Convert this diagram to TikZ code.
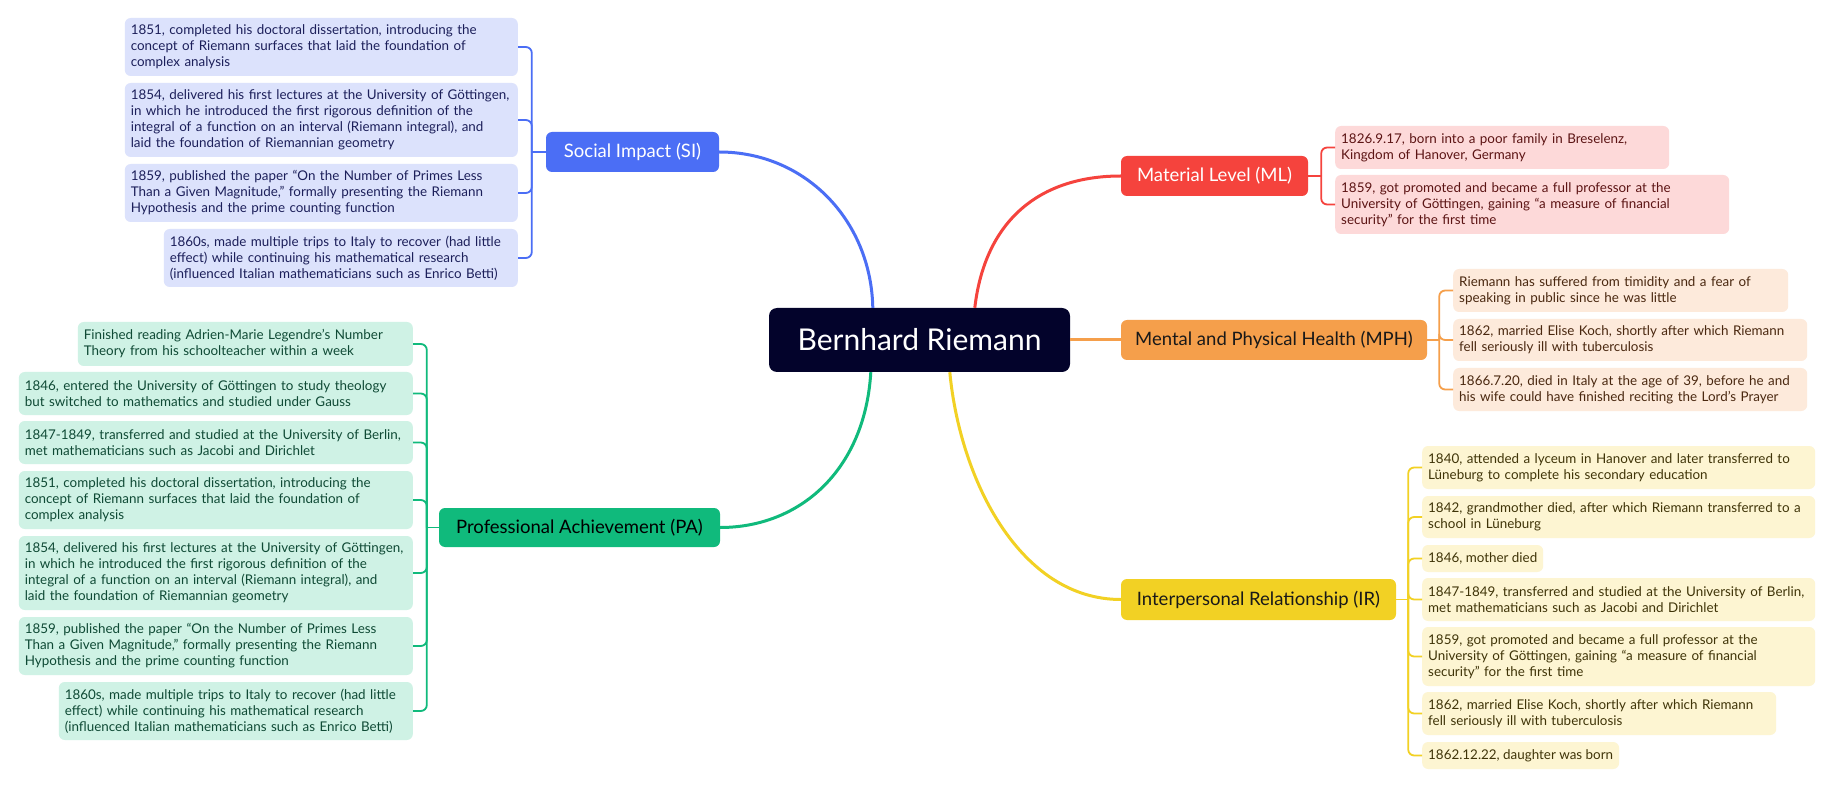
\documentclass[tikz,border=0pt]{standalone}
\usepackage{fontspec}
\setmainfont{Lato}
\usetikzlibrary{calc}
\definecolor{cen}{HTML}{03032B}
\definecolor{siC}{HTML}{4B6EF5}\definecolor{siL}{HTML}{DCE2FC}\definecolor{siT}{HTML}{1C1F5A}
\definecolor{paC}{HTML}{10BA7C}\definecolor{paL}{HTML}{CFF2E5}\definecolor{paT}{HTML}{0F4A35}
\definecolor{mlC}{HTML}{F5433D}\definecolor{mlL}{HTML}{FDD9D9}\definecolor{mlT}{HTML}{5C1414}
\definecolor{mpC}{HTML}{F59F4B}\definecolor{mpL}{HTML}{FDEADB}\definecolor{mpT}{HTML}{4A2810}
\definecolor{irC}{HTML}{F2D124}\definecolor{irL}{HTML}{FDF5D2}\definecolor{irT}{HTML}{3F3408}
\begin{document}
\begin{tikzpicture}[x=1pt,y=-1pt,
  leaf/.style={rounded corners=6pt, inner xsep=6pt, inner ysep=0pt, align=left,
    font=\fontsize{13.4}{16}\selectfont},
  sileaf/.style={leaf, fill=siL, text=siT, anchor=east},
  paleaf/.style={leaf, fill=paL, text=paT, anchor=east},
  mlleaf/.style={leaf, fill=mlL, text=mlT, anchor=west},
  mpleaf/.style={leaf, fill=mpL, text=mpT, anchor=west},
  irleaf/.style={leaf, fill=irL, text=irT, anchor=west},
  branch/.style={rounded corners=6pt, inner sep=0pt, minimum height=40pt,
    font=\fontsize{18.5}{22}\selectfont},
  brk/.style={line width=1.8pt, rounded corners=6pt},
  main/.style={line width=3pt}
]
\useasboundingbox[fill=white] (0,0) rectangle (1836,791);

% central
\node[fill=cen, text=white, rounded corners=8pt, minimum width=301pt, minimum height=64pt,
  inner sep=0pt, font=\fontsize{30}{34}\selectfont] (c) at (919.5,340) {Bernhard Riemann};

% branch nodes
\node[branch, fill=siC, text=white, minimum width=173pt] (si) at (632.5,152) {Social Impact (SI)};
\node[branch, fill=paC, text=black, minimum width=281pt, minimum height=39pt] (pa) at (579.5,527.5) {Professional Achievement (PA)};
\node[branch, fill=mlC, text=white, minimum width=187pt] (ml) at (1214.5,176) {Material Level (ML)};
\node[branch, fill=mpC, text=black!90, minimum width=306pt] (mp) at (1274,340) {Mental and Physical Health (MPH)};
\node[branch, fill=irC, text=black!90, minimum width=275pt, minimum height=41pt] (ir) at (1258.5,599.5) {Interpersonal Relationship (IR)};

% SI leaves
\node[sileaf, text width=381pt, minimum height=58pt] (si1) at (518,47) {1851, completed his doctoral dissertation, introducing the\\concept of Riemann surfaces that laid the foundation of\\complex analysis};
\node[sileaf, text width=381pt, minimum height=74pt] (si2) at (518,120) {1854, delivered his first lectures at the University of Göttingen,\\in which he introduced the first rigorous definition of the\\integral of a function on an interval (Riemann integral), and\\laid the foundation of Riemannian geometry};
\node[sileaf, text width=381pt, minimum height=58pt] (si3) at (518,193) {1859, published the paper “On the Number of Primes Less\\Than a Given Magnitude,” formally presenting the Riemann\\Hypothesis and the prime counting function};
\node[sileaf, text width=342pt, minimum height=58pt] (si4) at (518,258) {1860s, made multiple trips to Italy to recover (had little\\effect) while continuing his mathematical research\\(influenced Italian mathematicians such as Enrico Betti)};

% PA leaves
\node[paleaf, text width=323pt, minimum height=44pt] (pa1) at (413,344) {Finished reading Adrien-Marie Legendre’s Number\\Theory from his schoolteacher within a week};
\node[paleaf, text width=382pt, minimum height=43pt] (pa2) at (413,393.5) {1846, entered the University of Göttingen to study theology\\but switched to mathematics and studied under Gauss};
\node[paleaf, text width=382pt, minimum height=43pt] (pa3) at (413,442.5) {1847-1849, transferred and studied at the University of Berlin,\\met mathematicians such as Jacobi and Dirichlet};
\node[paleaf, text width=382pt, minimum height=58pt] (pa4) at (413,500) {1851, completed his doctoral dissertation, introducing the\\concept of Riemann surfaces that laid the foundation of\\complex analysis};
\node[paleaf, text width=382pt, minimum height=74pt] (pa5) at (413,573) {1854, delivered his first lectures at the University of Göttingen,\\in which he introduced the first rigorous definition of the\\integral of a function on an interval (Riemann integral), and\\laid the foundation of Riemannian geometry};
\node[paleaf, text width=382pt, minimum height=58pt] (pa6) at (413,646) {1859, published the paper “On the Number of Primes Less\\Than a Given Magnitude,” formally presenting the Riemann\\Hypothesis and the prime counting function};
\node[paleaf, text width=342pt, minimum height=58pt] (pa7) at (413,711) {1860s, made multiple trips to Italy to recover (had little\\effect) while continuing his mathematical research\\(influenced Italian mathematicians such as Enrico Betti)};

% ML leaves
\node[mlleaf, text width=322pt, minimum height=43pt] (ml1) at (1335,147.5) {1826.9.17, born into a poor family in Breselenz,\\Kingdom of Hanover, Germany};
\node[mlleaf, text width=382pt, minimum height=59pt] (ml2) at (1335,204.5) {1859, got promoted and became a full professor at the\\University of Göttingen, gaining “a measure of financial\\security” for the first time};

% MPH leaves
\node[mpleaf, text width=323pt, minimum height=43pt] (mp1) at (1453,290.5) {Riemann has suffered from timidity and a fear of\\speaking in public since he was little};
\node[mpleaf, text width=342pt, minimum height=42pt] (mp2) at (1453,340) {1862, married Elise Koch, shortly after which Riemann\\fell seriously ill with tuberculosis};
\node[mpleaf, text width=342pt, minimum height=43pt] (mp3) at (1453,389.5) {1866.7.20, died in Italy at the age of 39, before he and\\his wife could have finished reciting the Lord's Prayer};

% IR leaves
\node[irleaf, text width=381pt, minimum height=43pt] (ir1) at (1422,467.5) {1840, attended a lyceum in Hanover and later transferred to\\Lüneburg to complete his secondary education};
\node[irleaf, text width=381pt, minimum height=42pt] (ir2) at (1422,517) {1842, grandmother died, after which Riemann transferred to a\\school in Lüneburg};
\node[irleaf, minimum width=120pt, minimum height=27pt] (ir3) at (1422,558.5) {1846, mother died};
\node[irleaf, text width=381pt, minimum height=43pt] (ir4) at (1422,599.5) {1847-1849, transferred and studied at the University of Berlin,\\met mathematicians such as Jacobi and Dirichlet};
\node[irleaf, text width=381pt, minimum height=59pt] (ir5) at (1422,656.5) {1859, got promoted and became a full professor at the\\University of Göttingen, gaining “a measure of financial\\security” for the first time};
\node[irleaf, text width=342pt, minimum height=43pt] (ir6) at (1422,713.5) {1862, married Elise Koch, shortly after which Riemann\\fell seriously ill with tuberculosis};
\node[irleaf, minimum width=194pt, minimum height=27pt] (ir7) at (1422,755.5) {1862.12.22, daughter was born};

% main connectors
\draw[main, siC] ([xshift=104pt]c.north west) .. controls (871,220) and (805,152) .. (si.east);
\draw[main, mlC] ([xshift=206pt]c.north west) .. controls (985,220) and (1040,176) .. (ml.west);
\draw[main, mpC] (c.east) -- (mp.west);
\draw[main, irC] ([xshift=181pt]c.south west) .. controls (960,480) and (1020,599.5) .. (ir.west);
\draw[main, paC] ([xshift=102pt]c.south west) .. controls (865,470) and (800,527.5) .. (pa.east);

% brackets
\draw[brk, siC] (si.west) -- ++(-14,0) coordinate (sib);
\foreach \n in {si1,si2,si3,si4} \draw[brk, siC] (\n.east) -| (sib);
\draw[brk, paC] (pa.west) -- ++(-12,0) coordinate (pab);
\foreach \n in {pa1,pa2,pa3,pa4,pa5,pa6,pa7} \draw[brk, paC] (\n.east) -| (pab);
\draw[brk, mlC] (ml.east) -- ++(13,0) coordinate (mlb);
\foreach \n in {ml1,ml2} \draw[brk, mlC] (\n.west) -| (mlb);
\draw[brk, mpC] (mp.east) -- ++(12,0) coordinate (mpb);
\foreach \n in {mp1,mp2,mp3} \draw[brk, mpC] (\n.west) -| (mpb);
\draw[brk, irC] (ir.east) -- ++(12,0) coordinate (irb);
\foreach \n in {ir1,ir2,ir3,ir4,ir5,ir6,ir7} \draw[brk, irC] (\n.west) -| (irb);
\end{tikzpicture}
\end{document}
